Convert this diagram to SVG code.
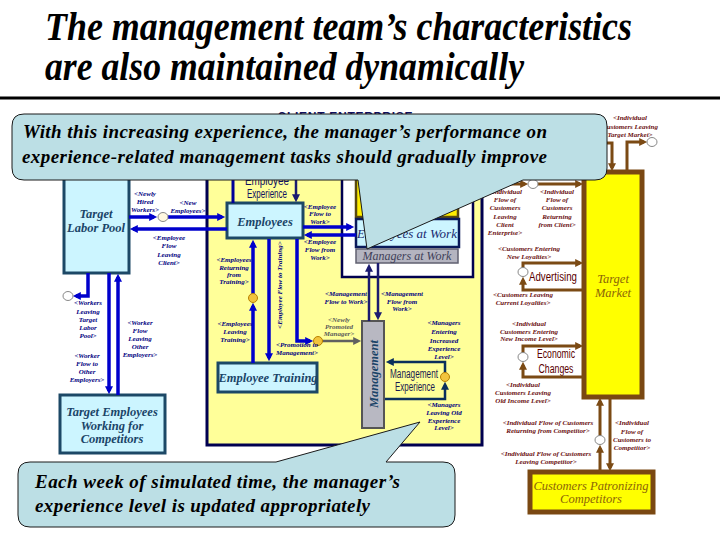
<svg xmlns="http://www.w3.org/2000/svg" width="720" height="540" viewBox="0 0 720 540">
<defs>
<style>
.ttl{font-family:"Liberation Serif",serif;font-style:italic;font-weight:bold;font-size:39px;fill:#000}
.co{fill:#bcdfe5;stroke:#1a1a1a;stroke-width:1}
.cot{font-family:"Liberation Serif",serif;font-style:italic;font-weight:bold;font-size:19px;fill:#000}
.bx{fill:#ccf5ff;stroke:#1c4866;stroke-width:3}
.bxt{font-family:"Liberation Serif",serif;font-style:italic;font-weight:bold;font-size:12.5px;text-anchor:middle;fill:#1a4468}
.lb{font-family:"Liberation Serif",serif;font-style:italic;font-weight:bold;font-size:7px;text-anchor:middle;fill:#000080}
.lr{font-family:"Liberation Serif",serif;font-style:italic;font-weight:bold;font-size:7px;text-anchor:middle;fill:#6b1010}
.lg{font-family:"Liberation Serif",serif;font-style:italic;font-weight:bold;font-size:7px;text-anchor:middle;fill:#5a5a5a}
.fb{fill:none;stroke:#0000cc;stroke-width:3.5;marker-end:url(#arB)}
.fnn{fill:none;stroke:#000099;stroke-width:3}
.fn{fill:none;stroke:#1a1a70;stroke-width:2.5;marker-end:url(#arN)}
.ft{fill:none;stroke:#0b2f5c;stroke-width:2.5;marker-end:url(#arT)}
.fg{fill:none;stroke:#606060;stroke-width:2.5;marker-end:url(#arG)}
.fr{fill:none;stroke:#7b4a14;stroke-width:3;marker-end:url(#arR)}
.cl{fill:#fff;stroke:#888;stroke-width:1}
.vl{fill:#f2c43c;stroke:#b88000;stroke-width:1}
.sn{font-family:"Liberation Sans",sans-serif;font-size:12px;text-anchor:middle}
.ym{fill:#ffff00;stroke:#7a4812;stroke-width:5}
.ymt{font-family:"Liberation Serif",serif;font-style:italic;font-size:12.5px;text-anchor:middle;fill:#8b6508}
</style>
<marker id="arB" viewBox="0 0 10 10" refX="6" refY="5" markerWidth="9" markerHeight="8" orient="auto" markerUnits="userSpaceOnUse"><path d="M0,0L10,5L0,10z" fill="#0000cc"/></marker>
<marker id="arN" viewBox="0 0 10 10" refX="6" refY="5" markerWidth="9" markerHeight="8" orient="auto" markerUnits="userSpaceOnUse"><path d="M0,0L10,5L0,10z" fill="#1a1a70"/></marker>
<marker id="arT" viewBox="0 0 10 10" refX="6" refY="5" markerWidth="9" markerHeight="8" orient="auto" markerUnits="userSpaceOnUse"><path d="M0,0L10,5L0,10z" fill="#0b2f5c"/></marker>
<marker id="arG" viewBox="0 0 10 10" refX="6" refY="5" markerWidth="9" markerHeight="8" orient="auto" markerUnits="userSpaceOnUse"><path d="M0,0L10,5L0,10z" fill="#606060"/></marker>
<marker id="arR" viewBox="0 0 10 10" refX="6" refY="5" markerWidth="9" markerHeight="8" orient="auto" markerUnits="userSpaceOnUse"><path d="M0,0L10,5L0,10z" fill="#7b4a14"/></marker>
</defs>
<rect width="720" height="540" fill="#fff"/>

<g id="title">
<text class="ttl" x="45" y="40" textLength="587" lengthAdjust="spacingAndGlyphs">The management team’s characteristics</text>
<text class="ttl" x="45" y="80" textLength="479" lengthAdjust="spacingAndGlyphs">are also maintained dynamically</text>
<line x1="0" y1="98" x2="720" y2="98" stroke="#000" stroke-width="3"/>
</g>

<g id="client-enterprise">
<rect x="207" y="118" width="275" height="327" fill="#ffff99" stroke="#000050" stroke-width="3"/>
<text x="345" y="121" font-family="Liberation Sans,sans-serif" font-weight="bold" font-size="12" fill="#101060" text-anchor="middle" textLength="135">CLIENT ENTERPRISE</text>
</g>

<g id="work-area">
<rect x="342" y="140" width="131" height="137" fill="#fff" stroke="#000050" stroke-width="2.5"/>
<rect x="356" y="150" width="102" height="67" fill="#ffee00" stroke="#5a4a10" stroke-width="2.5"/>
</g>
<g id="employees-at-work">
<rect x="356" y="219" width="103" height="28" fill="#ccf5ff" stroke="#0a1a5a" stroke-width="2.5"/>
<text x="407" y="238" font-family="Liberation Serif,serif" font-style="italic" font-size="13" fill="#1a2a70" text-anchor="middle">Employees at Work</text>
</g>
<g id="managers-at-work">
<rect x="356" y="249" width="102" height="14" fill="#b4b4c0" stroke="#606070" stroke-width="1.5"/>
<text x="407" y="260" font-family="Liberation Serif,serif" font-style="italic" font-size="12" fill="#404058" text-anchor="middle">Managers at Work</text>
</g>

<g id="target-labor-pool">
<rect class="bx" x="64" y="160" width="65" height="113"/>
<text class="bxt" x="96" y="218">Target</text>
<text class="bxt" x="96" y="232">Labor Pool</text>
</g>
<g id="employees">
<rect class="bx" x="227" y="203" width="76" height="35"/>
<text class="bxt" x="265" y="226" font-size="13">Employees</text>
</g>
<g id="employee-training">
<rect class="bx" x="218" y="363" width="99" height="29"/>
<text class="bxt" x="268" y="382" font-size="13">Employee Training</text>
</g>
<g id="target-employees-competitors">
<rect class="bx" x="60" y="395" width="105" height="58"/>
<text class="bxt" x="112" y="416" fill="#1a4038" font-size="12">Target Employees</text>
<text class="bxt" x="112" y="429.5" fill="#1a4038" font-size="12">Working for</text>
<text class="bxt" x="112" y="443" fill="#1a4038" font-size="12">Competitors</text>
</g>
<g id="management">
<rect x="362" y="321" width="22" height="107" fill="#b8b8c2" stroke="#555" stroke-width="2"/>
<text class="bxt" transform="translate(378,374) rotate(-90)" fill="#1a1a6a" font-size="13">Management</text>
</g>
<g id="employee-experience">
<text class="sn" x="267" y="184.5" font-size="11" fill="#101060" textLength="44" lengthAdjust="spacingAndGlyphs">Employee</text>
<text class="sn" x="267" y="197.5" font-size="11" fill="#101060" textLength="40" lengthAdjust="spacingAndGlyphs">Experience</text>
</g>
<g id="management-experience">
<text class="sn" x="414" y="378" fill="#1a1a50" textLength="48" lengthAdjust="spacingAndGlyphs">Management</text>
<text class="sn" x="415" y="391" fill="#1a1a50" textLength="40" lengthAdjust="spacingAndGlyphs">Experience</text>
</g>
<g id="target-market">
<rect class="ym" x="584" y="172" width="58" height="225"/>
<text class="ymt" x="613" y="283">Target</text>
<text class="ymt" x="613" y="297">Market</text>
</g>
<g id="customers-patronizing-competitors">
<rect class="ym" x="530" y="472" width="123" height="40"/>
<text class="ymt" x="591" y="490">Customers Patronizing</text>
<text class="ymt" x="591" y="503">Competitors</text>
</g>
<g id="advertising">
<text class="sn" x="553" y="281" font-size="13" fill="#5a0000" textLength="48" lengthAdjust="spacingAndGlyphs">Advertising</text>
</g>
<g id="economic-changes">
<text class="sn" x="556" y="358" fill="#5a0000" textLength="38" lengthAdjust="spacingAndGlyphs">Economic</text>
<text class="sn" x="556" y="373" fill="#5a0000" textLength="35" lengthAdjust="spacingAndGlyphs">Changes</text>
</g>

<g id="connectors">
<path class="fb" d="M129,217H154"/>
<path class="fb" d="M168,217H222"/>
<path class="fb" d="M227,229H133"/>
<path class="fb" d="M303,227H351"/>
<path class="fb" d="M356,235H307"/>
<path class="fb" d="M253,363V306"/>
<path class="fb" d="M253,294V243"/>
<path class="fb" d="M269,239V358"/>
<path class="fb" d="M297,239V341H310"/>
<path class="fb" d="M88,273V296H76"/>
<path class="fb" d="M109,273V391"/>
<path class="fb" d="M118,395V277"/>
<path class="fnn" d="M233,170V203"/>
<path class="fn" d="M296,170V199" stroke="#000099"/>
<path class="fn" d="M369,321V267"/>
<path class="fn" d="M378,263V317"/>
<path class="ft" d="M385,399H445V385"/>
<path class="ft" d="M445,373V362H389"/>
<path class="fg" d="M322,341H358"/>
<path class="fr" d="M598,143H612V168"/>
<path class="fr" d="M627,172V142H644"/>
<path class="fr" d="M484,184H525"/>
<path class="fr" d="M537,184H580"/>
<path class="fr" d="M523,268V263H580"/>
<path class="fr" d="M584,290H523V280"/>
<path class="fr" d="M523,353V346H580"/>
<path class="fr" d="M584,377H523V365"/>
<path class="fr" d="M600,472V448"/>
<path class="fr" d="M600,436V401"/>
<path class="fr" d="M610,397V468"/>
<ellipse cx="163" cy="217" rx="5" ry="4.5" fill="#fff8e0" stroke="#888" stroke-width="1"/>
<ellipse class="cl" cx="68" cy="296" rx="5" ry="4.5"/>
<circle class="vl" cx="253" cy="298" r="4.5"/>
<circle class="vl" cx="318" cy="341" r="4.5"/>
<circle class="vl" cx="445" cy="377" r="4.5"/>
<ellipse class="cl" cx="652" cy="142" rx="5" ry="4.5"/>
<ellipse class="cl" cx="533" cy="184" rx="5" ry="4.5"/>
<ellipse class="cl" cx="523" cy="272" rx="5" ry="4.5"/>
<ellipse class="cl" cx="523" cy="357" rx="5" ry="4.5"/>
<ellipse class="cl" cx="600" cy="440" rx="5" ry="4.5"/>
</g>

<g id="labels">
<text class="lb"><tspan x="145" y="196">&lt;Newly</tspan><tspan x="145" y="204">Hired</tspan><tspan x="145" y="212">Workers&gt;</tspan></text>
<text class="lb"><tspan x="188" y="205">&lt;New</tspan><tspan x="188" y="213">Employees&gt;</tspan></text>
<text class="lb"><tspan x="169" y="240">&lt;Employee</tspan><tspan x="169" y="248">Flow</tspan><tspan x="169" y="257">Leaving</tspan><tspan x="169" y="265">Client&gt;</tspan></text>
<text class="lb"><tspan x="88" y="305">&lt;Workers</tspan><tspan x="88" y="314">Leaving</tspan><tspan x="88" y="322">Target</tspan><tspan x="88" y="330">Labor</tspan><tspan x="88" y="338">Pool&gt;</tspan></text>
<text class="lb"><tspan x="140" y="325">&lt;Worker</tspan><tspan x="140" y="333">Flow</tspan><tspan x="140" y="341">Leaving</tspan><tspan x="140" y="349">Other</tspan><tspan x="140" y="357">Employers&gt;</tspan></text>
<text class="lb"><tspan x="87" y="358">&lt;Worker</tspan><tspan x="87" y="366">Flow to</tspan><tspan x="87" y="374">Other</tspan><tspan x="87" y="382">Employers&gt;</tspan></text>
<text class="lb"><tspan x="320" y="209">&lt;Employee</tspan><tspan x="320" y="216">Flow to</tspan><tspan x="320" y="224">Work&gt;</tspan></text>
<text class="lb"><tspan x="320" y="244">&lt;Employee</tspan><tspan x="320" y="252">Flow from</tspan><tspan x="320" y="260">Work&gt;</tspan></text>
<text class="lb"><tspan x="234" y="262">&lt;Employees</tspan><tspan x="234" y="270">Returning</tspan><tspan x="234" y="277">from</tspan><tspan x="234" y="284">Training&gt;</tspan></text>
<text class="lb"><tspan x="235" y="326">&lt;Employees</tspan><tspan x="235" y="334">Leaving</tspan><tspan x="235" y="342">Training&gt;</tspan></text>
<text class="lb" transform="translate(282,285) rotate(-90)">&lt;Employee Flow to Training&gt;</text>
<text class="lb"><tspan x="297" y="347">&lt;Promotion to</tspan><tspan x="297" y="355">Management&gt;</tspan></text>
<text class="lg"><tspan x="339" y="322">&lt;Newly</tspan><tspan x="339" y="329">Promoted</tspan><tspan x="339" y="336">Manager&gt;</tspan></text>
<text class="lb"><tspan x="346" y="296">&lt;Management</tspan><tspan x="346" y="304">Flow to Work&gt;</tspan></text>
<text class="lb"><tspan x="402" y="296">&lt;Management</tspan><tspan x="402" y="304">Flow from</tspan><tspan x="402" y="311">Work&gt;</tspan></text>
<text class="lb"><tspan x="444" y="325">&lt;Managers</tspan><tspan x="444" y="334">Entering</tspan><tspan x="444" y="343">Increased</tspan><tspan x="444" y="351">Experience</tspan><tspan x="444" y="359">Level&gt;</tspan></text>
<text class="lb"><tspan x="444" y="407">&lt;Managers</tspan><tspan x="444" y="415">Leaving Old</tspan><tspan x="444" y="423">Experience</tspan><tspan x="444" y="430">Level&gt;</tspan></text>
<text class="lr"><tspan x="630" y="120">&lt;Individual</tspan><tspan x="630" y="129">Customers Leaving</tspan><tspan x="630" y="137">Target Market&gt;</tspan></text>
<text class="lr"><tspan x="505" y="194">&lt;Individual</tspan><tspan x="505" y="202">Flow of</tspan><tspan x="505" y="210">Customers</tspan><tspan x="505" y="219">Leaving</tspan><tspan x="505" y="227">Client</tspan><tspan x="505" y="235">Enterprise&gt;</tspan></text>
<text class="lr"><tspan x="557" y="194">&lt;Individual</tspan><tspan x="557" y="202">Flow of</tspan><tspan x="557" y="210">Customers</tspan><tspan x="557" y="219">Returning</tspan><tspan x="557" y="227">from Client&gt;</tspan></text>
<text class="lr"><tspan x="529" y="251">&lt;Customers Entering</tspan><tspan x="529" y="259">New Loyalties&gt;</tspan></text>
<text class="lr"><tspan x="523" y="297">&lt;Customers Leaving</tspan><tspan x="523" y="305">Current Loyalties&gt;</tspan></text>
<text class="lr"><tspan x="529" y="326">&lt;Individual</tspan><tspan x="529" y="334">Customers Entering</tspan><tspan x="529" y="341">New Income Level&gt;</tspan></text>
<text class="lr"><tspan x="523" y="387">&lt;Individual</tspan><tspan x="523" y="395">Customers Leaving</tspan><tspan x="523" y="403">Old Income Level&gt;</tspan></text>
<text class="lr"><tspan x="548" y="425">&lt;Individual Flow of Customers</tspan><tspan x="548" y="433">Returning from Competitor&gt;</tspan></text>
<text class="lr"><tspan x="546" y="456">&lt;Individual Flow of Customers</tspan><tspan x="546" y="464">Leaving Competitor&gt;</tspan></text>
<text class="lr"><tspan x="632" y="425">&lt;Individual</tspan><tspan x="632" y="434">Flow of</tspan><tspan x="632" y="442">Customers to</tspan><tspan x="632" y="450">Competitor&gt;</tspan></text>
</g>

<g id="callout-top">
<path class="co" d="M24,114H595Q607,114 607,126V168Q607,180 595,180H523L367,249L358,180H24Q12,180 12,168V126Q12,114 24,114Z"/>
<text class="cot" x="23" y="138" textLength="524">With this increasing experience, the manager’s performance on</text>
<text class="cot" x="22" y="163" textLength="525">experience-related management tasks should gradually improve</text>
</g>
<g id="callout-bottom">
<path class="co" d="M30,462H276L420,422L386,462H443Q455,462 455,474V515Q455,527 443,527H30Q18,527 18,515V474Q18,462 30,462Z"/>
<text class="cot" x="35" y="488" textLength="365">Each week of simulated time, the manager’s</text>
<text class="cot" x="35" y="512" textLength="335">experience level is updated appropriately</text>
</g>
</svg>
